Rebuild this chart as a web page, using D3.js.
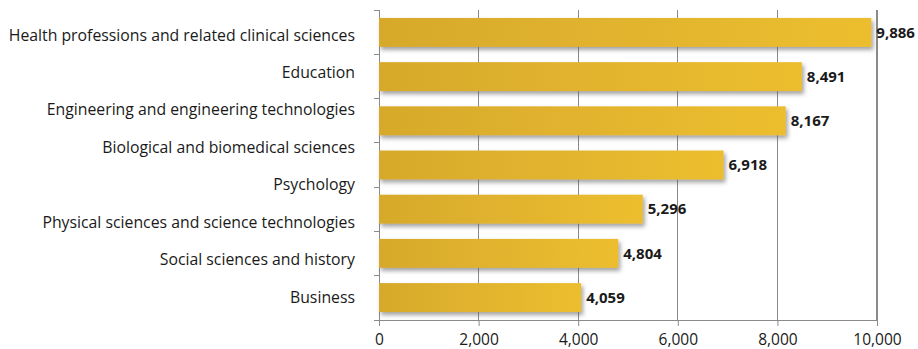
<!DOCTYPE html>
<html>
<head>
<meta charset="utf-8">
<script src="https://cdn.jsdelivr.net/npm/d3@7"></script>
<style>
  body { margin: 0; background: #fff; }
  svg text { font-family: "Open Sans", "Noto Sans", sans-serif; fill: #1a1a1a; }
</style>
</head>
<body>
<div id="chart"></div>
<script>
const categories = [
  'Health professions and related clinical sciences',
  'Education',
  'Engineering and engineering technologies',
  'Biological and biomedical sciences',
  'Psychology',
  'Physical sciences and science technologies',
  'Social sciences and history',
  'Business'
]
const values = [9886, 8491, 8167, 6918, 5296, 4804, 4059]
const xTicks = [0, 2000, 4000, 6000, 8000, 10000]

const width = 918, height = 349
const plotLeft = 379, plotRight = 877, plotTop = 10, plotBottom = 320

const svg = d3.select('#chart').append('svg')
  .attr('width', width)
  .attr('height', height)

const defs = svg.append('defs')
const grad = defs.append('linearGradient').attr('id', 'barGrad')
grad.append('stop').attr('offset', '0%').attr('stop-color', '#d7a92c')
grad.append('stop').attr('offset', '100%').attr('stop-color', '#ecbe2f')

const shadow = defs.append('filter').attr('id', 'shadow')
  .attr('x', '-5%').attr('y', '-30%').attr('width', '115%').attr('height', '180%')
shadow.append('feDropShadow')
  .attr('dx', 2).attr('dy', 3).attr('stdDeviation', 2.2)
  .attr('flood-color', '#555').attr('flood-opacity', 0.55)

const x = d3.scaleLinear().domain([0, 10000]).range([plotLeft, plotRight])
const yBar = d3.scaleBand()
  .domain(d3.range(values.length))
  .range([plotTop, plotBottom])
  .paddingInner(0.345)
  .paddingOuter(0.18)
const yTick = d3.scaleBand().domain(d3.range(values.length)).range([plotTop, plotBottom])
const yLabel = d3.scalePoint().domain(categories).range([35, 297])

// vertical gridlines
svg.append('g').selectAll('line')
  .data(xTicks.slice(1))
  .enter().append('line')
  .attr('x1', d => x(d)).attr('x2', d => x(d))
  .attr('y1', plotTop).attr('y2', plotBottom)
  .attr('stroke', '#8a8a8a')
  .attr('stroke-width', d => d === 10000 ? 2 : 1)
  .attr('shape-rendering', 'crispEdges')

// bottom axis
const xAxis = svg.append('g')
  .attr('transform', `translate(0,${plotBottom})`)
  .call(d3.axisBottom(x).tickValues(xTicks).tickSize(6).tickPadding(8).tickFormat(d3.format(',')))
xAxis.select('.domain').attr('stroke', '#8a8a8a')
xAxis.selectAll('.tick line').attr('stroke', '#8a8a8a')
xAxis.selectAll('text').style('font-size', '15.5px').attr('fill', '#1a1a1a')

// left axis line + ticks
svg.append('line')
  .attr('x1', plotLeft).attr('x2', plotLeft).attr('y1', plotTop).attr('y2', plotBottom)
  .attr('stroke', '#8a8a8a').attr('shape-rendering', 'crispEdges')
svg.append('g').selectAll('line')
  .data(d3.range(values.length + 1))
  .enter().append('line')
  .attr('x1', plotLeft - 5).attr('x2', plotLeft)
  .attr('y1', d => d < values.length ? yTick(d) : plotBottom)
  .attr('y2', d => d < values.length ? yTick(d) : plotBottom)
  .attr('stroke', '#8a8a8a').attr('shape-rendering', 'crispEdges')

// bars
svg.append('g').selectAll('rect')
  .data(values)
  .enter().append('rect')
  .attr('x', x(0))
  .attr('y', (d, i) => yBar(i))
  .attr('width', d => x(d) - x(0))
  .attr('height', yBar.bandwidth())
  .attr('fill', 'url(#barGrad)')
  .attr('filter', 'url(#shadow)')

// value labels
svg.append('g').selectAll('text')
  .data(values)
  .enter().append('text')
  .attr('x', d => x(d) + 5)
  .attr('y', (d, i) => yBar(i) + yBar.bandwidth() / 2)
  .attr('dy', '0.35em')
  .style('font-size', '15px')
  .style('font-weight', 'bold')
  .text(d => d3.format(',')(d))

// category labels
svg.append('g').selectAll('text')
  .data(categories)
  .enter().append('text')
  .attr('x', 355)
  .attr('y', d => yLabel(d))
  .attr('dy', '0.35em')
  .attr('text-anchor', 'end')
  .style('font-size', '15.8px')
  .text(d => d)
</script>
</body>
</html>
